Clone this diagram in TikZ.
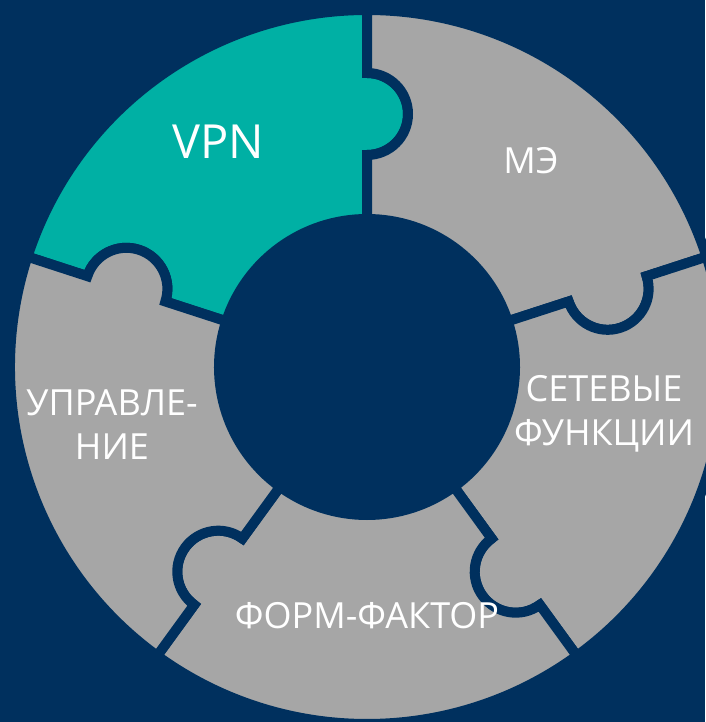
\documentclass[tikz,border=0pt]{standalone}
\usepackage{fontspec}
\setmainfont{Open Sans}
\usepackage{xcolor}
\usepackage{tikz}
\definecolor{navybg}{RGB}{0,48,94}
\definecolor{tealpiece}{RGB}{0,176,164}
\definecolor{greypiece}{RGB}{166,166,166}
\tikzstyle{piece} = [draw=navybg, line width=10pt, line join=miter]
\tikzstyle{piecetext} = [text=white, align=center, font=\fontsize{36}{44}\selectfont]
% one ring segment: #1 = clockwise edge (with knob), #2 = other edge (with socket)
\newcommand{\puzzlepiece}[2]{
  (#2:357) arc[start angle=#2, end angle=#1, radius=357]
  -- (#1:294) arc[start angle=#1, end angle=#1-180, radius=41]
  -- (#1:148) arc[start angle=#1, end angle=#2, radius=148]
  -- (#2:212) arc[start angle=#2+180, end angle=#2+360, radius=41]
  -- cycle}

\begin{document}
\begin{tikzpicture}[x=1pt, y=1pt]

% background
\fill[navybg] (-367,-355) rectangle (338,367);
\useasboundingbox (-367,-355) rectangle (338,367);

% ring pieces
\path[piece, fill=tealpiece] \puzzlepiece{90}{162};
\path[piece, fill=greypiece] \puzzlepiece{18}{90};
\path[piece, fill=greypiece] \puzzlepiece{-54}{18};
\path[piece, fill=greypiece] \puzzlepiece{-126}{-54};
\path[piece, fill=greypiece] \puzzlepiece{162}{234};

% labels
\node[piecetext, font=\fontsize{47}{52}\selectfont] (vpn) at (-149,225) {VPN};
\node[piecetext] (me) at (164,206) {МЭ};
\node[piecetext] (net) at (237,-47) {СЕТЕВЫЕ\\ФУНКЦИИ};
\node[piecetext] (form) at (0,-249) {ФОРМ-ФАКТОР};
\node[piecetext] (manage) at (-255,-58) {УПРАВЛЕ-\\НИЕ};

\end{tikzpicture}
\end{document}
